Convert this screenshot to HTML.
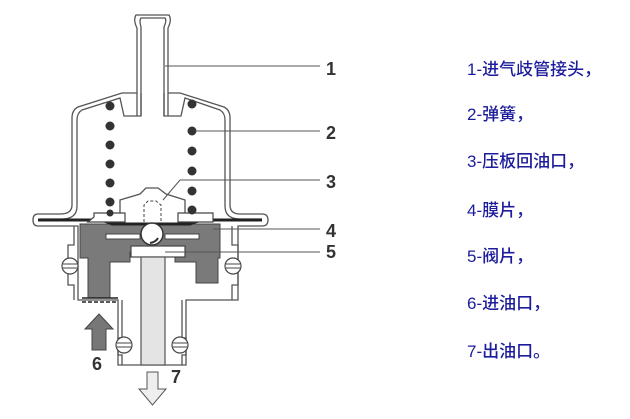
<!DOCTYPE html>
<html><head><meta charset="utf-8"><style>
html,body{margin:0;padding:0;background:#fff;width:630px;height:419px;overflow:hidden}
svg{position:absolute;left:0;top:0}
.t{position:absolute;left:467px;font-family:"Liberation Sans","Noto Sans CJK SC",sans-serif;font-size:17px;color:#1c1c9c;white-space:nowrap;line-height:20px;font-weight:500}
</style></head><body>
<svg width="630" height="419" viewBox="0 0 630 419">
<!-- gray body -->
<path fill="#7a7a7a" stroke="#444" stroke-width="1" d="M80,224 H220 V258 H218 V283 H196 V262 H175 V252 H130 V262 H110 V298 H88 V258 H80 Z"/>
<g fill="none" stroke="#555" stroke-width="1.3">
<!-- tube -->
<path d="M137,116 V28 Q133,20 136,15 H169 Q172,20 168,28 V116"/>
<path d="M141,116 V27 Q139,20 141,18 H165 Q167,20 164,27 V116"/>
<!-- cap outer -->
<path d="M137,93 L122,93 L78,107 Q72,110 72,118 V205 Q72,214 60,214 H38 Q33,214 33,220 Q33,226 38,226 H78 V300 H118 V365 H186 V300 H238 V226 H262 Q268,226 268,220 Q268,214 262,214 H240 Q230,214 230,205 V118 Q230,110 224,107 L180,93 L168,93"/>
<path d="M141,93 V116 H124 L120,98 L82,110 Q77,113 77,120 V206 Q77,219 62,219 H40"/>
<path d="M164,93 V116 H181 L185,98 L220,110 Q225,113 225,120 V206 Q225,219 240,219 H262"/>
<path d="M74,226 V245 H68 V285 H74 V300"/>
<path d="M232,226 V245 H238 V285 H232 V300"/>
<path d="M122,300 V338 H118 V355 H122 V365"/>
<path d="M182,300 V338 H186 V355 H182 V365"/>
<!-- press plate 3 -->
<path d="M120,215 V200 L140,194 L146,188 H158 L166,194 L185,200 V215"/>
</g>
<!-- dark diaphragm -->
<path d="M38,220 H95 Q105,220 112,224 H190 Q198,220 208,220 H262" stroke="#222" stroke-width="3" fill="none"/>
<!-- plate shelves -->
<path d="M88,222 H125 V213 H94 V217 Z" fill="#fff" stroke="#444" stroke-width="1.2"/>
<path d="M178,222 H213 V213 H178 Z" fill="#fff" stroke="#444" stroke-width="1.2"/>
<rect x="106" y="234" width="34" height="5" fill="#fff" stroke="#444" stroke-width="1"/>
<rect x="165" y="234" width="34" height="5" fill="#fff" stroke="#444" stroke-width="1"/>
<!-- ball & spring -->
<path d="M144,222 V205 L148,201 H156 L161,205 V222" fill="#fff" stroke="#444" stroke-dasharray="3,2"/>
<circle cx="152" cy="234" r="11" fill="#fff" stroke="#333" stroke-width="1.5"/>
<path d="M158,238 Q156,242 150,243" stroke="#333" stroke-width="2" fill="none"/>
<!-- valve plate 5 -->
<rect x="131" y="246" width="54" height="11" fill="#fff" stroke="#444" stroke-width="1.2"/>
<!-- stem -->
<rect x="141" y="257" width="24" height="108" fill="#e4e4e4" stroke="#555" stroke-width="1.2"/>
<!-- filter -->
<line x1="82" y1="298" x2="118" y2="298" stroke="#222" stroke-width="1.5"/>
<line x1="82" y1="302" x2="118" y2="302" stroke="#222" stroke-width="1.5" stroke-dasharray="4,2"/>
<!-- springs -->
<g fill="#333">
<circle cx="110" cy="106" r="4.5"/><circle cx="110" cy="126" r="4.5"/><circle cx="110" cy="145" r="4.5"/><circle cx="110" cy="164" r="4.5"/><circle cx="110" cy="183" r="4.5"/><circle cx="110" cy="202" r="4.5"/><circle cx="110" cy="213" r="3.5"/>
<circle cx="192" cy="104" r="4.5"/><circle cx="192" cy="131" r="4.5"/><circle cx="192" cy="151" r="4.5"/><circle cx="192" cy="171" r="4.5"/><circle cx="192" cy="191" r="4.5"/><circle cx="192" cy="210" r="4.5"/>
</g>
<!-- o-rings -->
<g fill="#fff" stroke="#444" stroke-width="1.2">
<circle cx="70" cy="266" r="8"/><circle cx="233" cy="266" r="8"/><circle cx="124" cy="345" r="8"/><circle cx="180" cy="345" r="8"/>
</g>
<g stroke="#444" stroke-width="1"><line x1="63" y1="264" x2="77" y2="264"/><line x1="63" y1="268" x2="77" y2="268"/><line x1="226" y1="264" x2="240" y2="264"/><line x1="226" y1="268" x2="240" y2="268"/><line x1="117" y1="343" x2="131" y2="343"/><line x1="117" y1="347" x2="131" y2="347"/><line x1="173" y1="343" x2="187" y2="343"/><line x1="173" y1="347" x2="187" y2="347"/></g>
<!-- arrows -->
<path d="M99,314 L113,329 H106 V350 H92 V329 H85 Z" fill="#777" stroke="#444"/>
<path d="M147,372 H158 V389 H166 L152.5,405 L139,389 H147 Z" fill="#eee" stroke="#555"/>
<!-- leader lines -->
<g stroke="#555" stroke-width="1" fill="none">
<line x1="165" y1="66" x2="320" y2="66"/>
<line x1="195" y1="131" x2="320" y2="131"/>
<path d="M163,200 L180,180 H320"/>
<line x1="213" y1="229" x2="320" y2="229"/>
<line x1="165" y1="252" x2="320" y2="252"/>
</g>
<g font-family="Liberation Sans,sans-serif" font-weight="bold" font-size="18" fill="#333">
<text x="326" y="75">1</text><text x="326" y="139">2</text><text x="326" y="188">3</text><text x="326" y="237">4</text><text x="326" y="258">5</text><text x="92" y="370">6</text><text x="171" y="383">7</text>
</g>
</svg>
<div class="t" style="top:60px">1-进气歧管接头，</div>
<div class="t" style="top:105px">2-弹簧，</div>
<div class="t" style="top:152px">3-压板回油口，</div>
<div class="t" style="top:201px">4-膜片，</div>
<div class="t" style="top:247px">5-阀片，</div>
<div class="t" style="top:294px">6-进油口，</div>
<div class="t" style="top:342px">7-出油口。</div>
</body></html>
